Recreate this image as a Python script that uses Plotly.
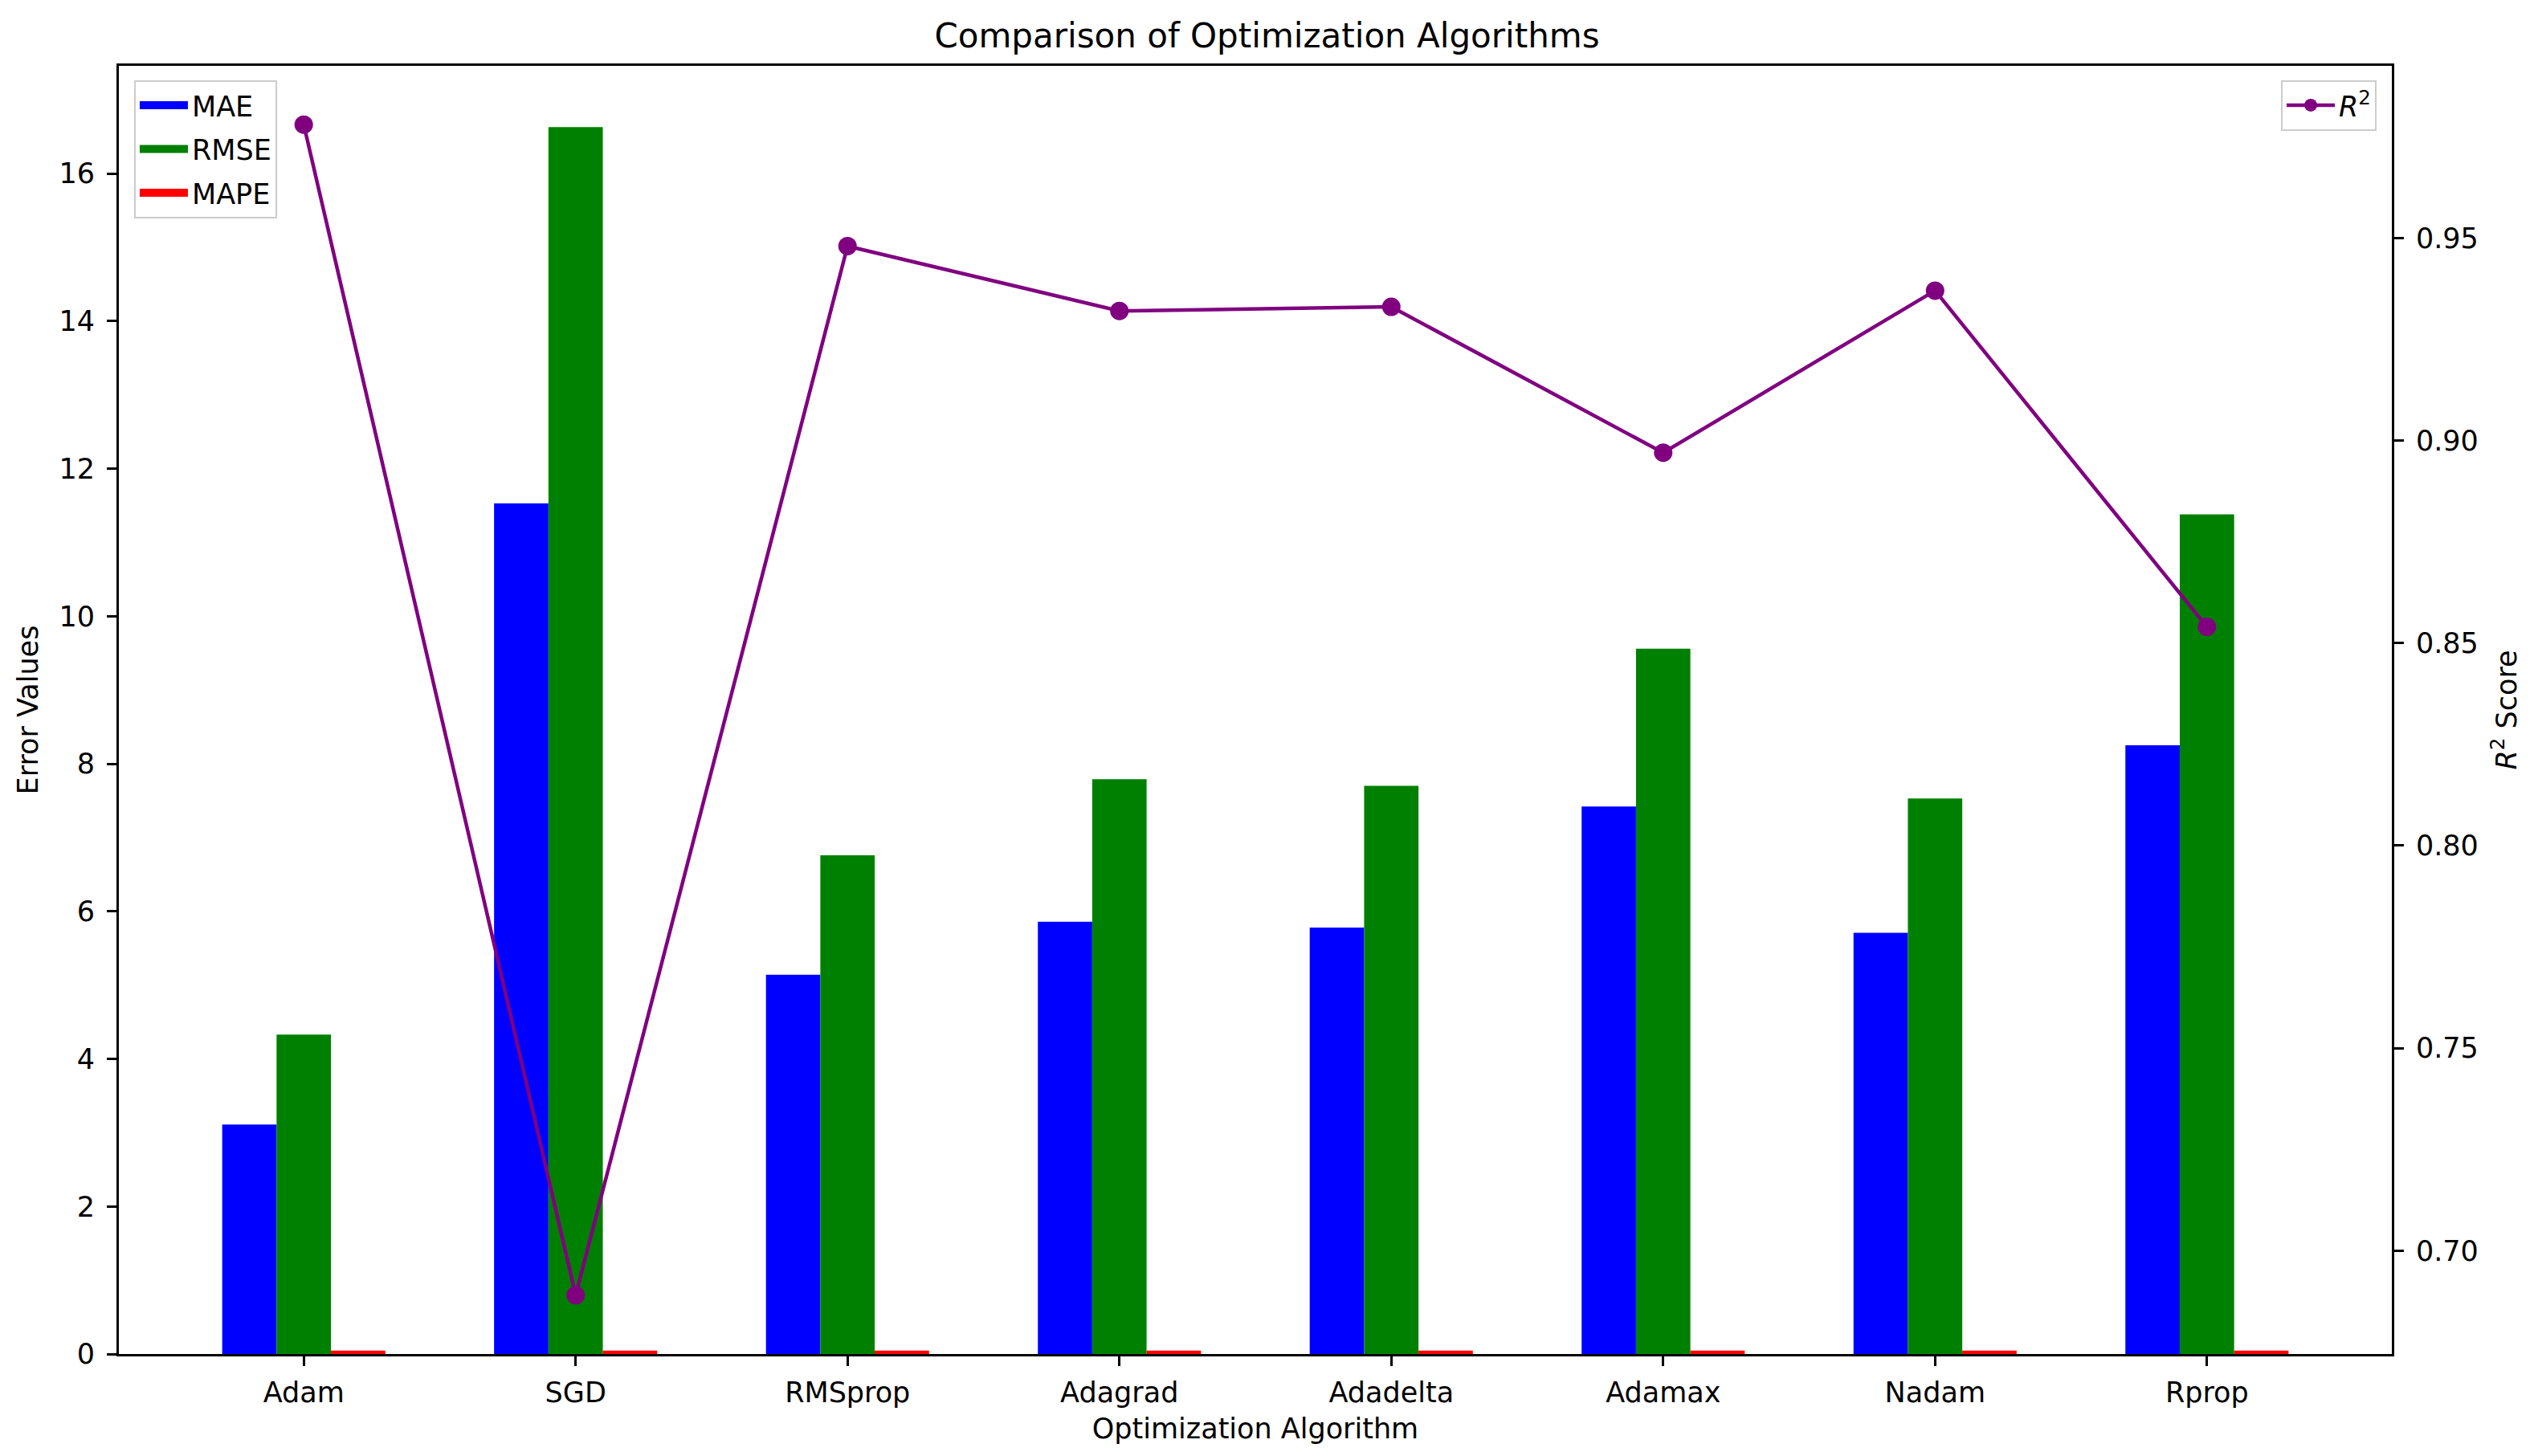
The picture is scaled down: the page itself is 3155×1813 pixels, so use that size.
import plotly.graph_objects as go

algorithms = ["Adam", "SGD", "RMSprop", "Adagrad", "Adadelta", "Adamax", "Nadam", "Rprop"]
mae = [3.11, 11.53, 5.14, 5.86, 5.78, 7.42, 5.71, 8.25]
rmse = [4.33, 16.63, 6.76, 7.79, 7.70, 9.56, 7.53, 11.38]
mape = [0.045, 0.045, 0.045, 0.045, 0.045, 0.045, 0.045, 0.045]
r2 = [0.978, 0.689, 0.948, 0.932, 0.933, 0.897, 0.937, 0.854]

bar_names = ["MAE", "RMSE", "MAPE"]
bar_colors = ["blue", "green", "red"]
bar_values = [mae, rmse, mape]

FONT = "DejaVu Sans"
FS = 35
W, H = 3139, 1797
L, R, T, B = 140, 169, 74, 119

fig = go.Figure()
for name, color, vals in zip(bar_names, bar_colors, bar_values):
    fig.add_trace(go.Bar(x=algorithms, y=vals, name=name, marker=dict(color=color, line=dict(width=0)),
                         showlegend=False, legendgroup=name))
# legend swatches (rectangular, like the reference)
for name, color in zip(bar_names, bar_colors):
    fig.add_trace(go.Scatter(x=[None], y=[None], name=name, mode="lines",
                             line=dict(color=color, width=24), legend="legend", legendgroup=name))

fig.add_trace(go.Scatter(x=algorithms, y=r2, name="<i>R</i><sup>2</sup>", mode="lines+markers",
                         line=dict(color="purple", width=4.5), marker=dict(color="purple", size=23),
                         yaxis="y2", legend="legend2"))

axis_common = dict(showline=True, linecolor="black", linewidth=2.8, ticks="outside", ticklen=12,
                   tickwidth=2.8, tickcolor="black", showgrid=False, zeroline=False,
                   tickfont=dict(family=FONT, size=FS, color="black"))

fig.update_layout(
    width=W, height=H,
    margin=dict(l=L, r=R, t=T, b=B),
    paper_bgcolor="white", plot_bgcolor="white",
    barmode="group", bargap=0.4, bargroupgap=0,
    font=dict(family=FONT, size=FS, color="black"),
    title=dict(text="Comparison of Optimization Algorithms", x=0.5, xanchor="center",
               y=1 - 36 / H, yanchor="middle", font=dict(family=FONT, size=42, color="black")),
    xaxis=dict(**axis_common, range=[-0.68, 7.68], mirror=True, ticklabelstandoff=3,
               title=dict(text="Optimization Algorithm", font=dict(family=FONT, size=FS), standoff=14)),
    yaxis=dict(**axis_common, range=[0, 17.46], tickvals=[0, 2, 4, 6, 8, 10, 12, 14, 16],
               ticklabelstandoff=8,
               title=dict(text="Error Values", font=dict(family=FONT, size=FS), standoff=16)),
    yaxis2=dict(**axis_common, overlaying="y", side="right", range=[0.6745, 0.9925],
                tickvals=[0.70, 0.75, 0.80, 0.85, 0.90, 0.95], tickformat=".2f", ticklabelstandoff=8,
                title=dict(text="<i>R</i><sup>2</sup> Score", font=dict(family=FONT, size=FS), standoff=24)),
    legend=dict(x=0.0067, y=0.989, xanchor="left", yanchor="top", bgcolor="rgba(255,255,255,0.8)",
                bordercolor="#cccccc", borderwidth=2, font=dict(family=FONT, size=FS),
                tracegroupgap=6, itemwidth=60),
    legend2=dict(x=0.9933, y=0.989, xanchor="right", yanchor="top", bgcolor="rgba(255,255,255,0.8)",
                 bordercolor="#cccccc", borderwidth=2, font=dict(family=FONT, size=FS), itemwidth=60),
    showlegend=True,
)

fig.write_html("out.html")
